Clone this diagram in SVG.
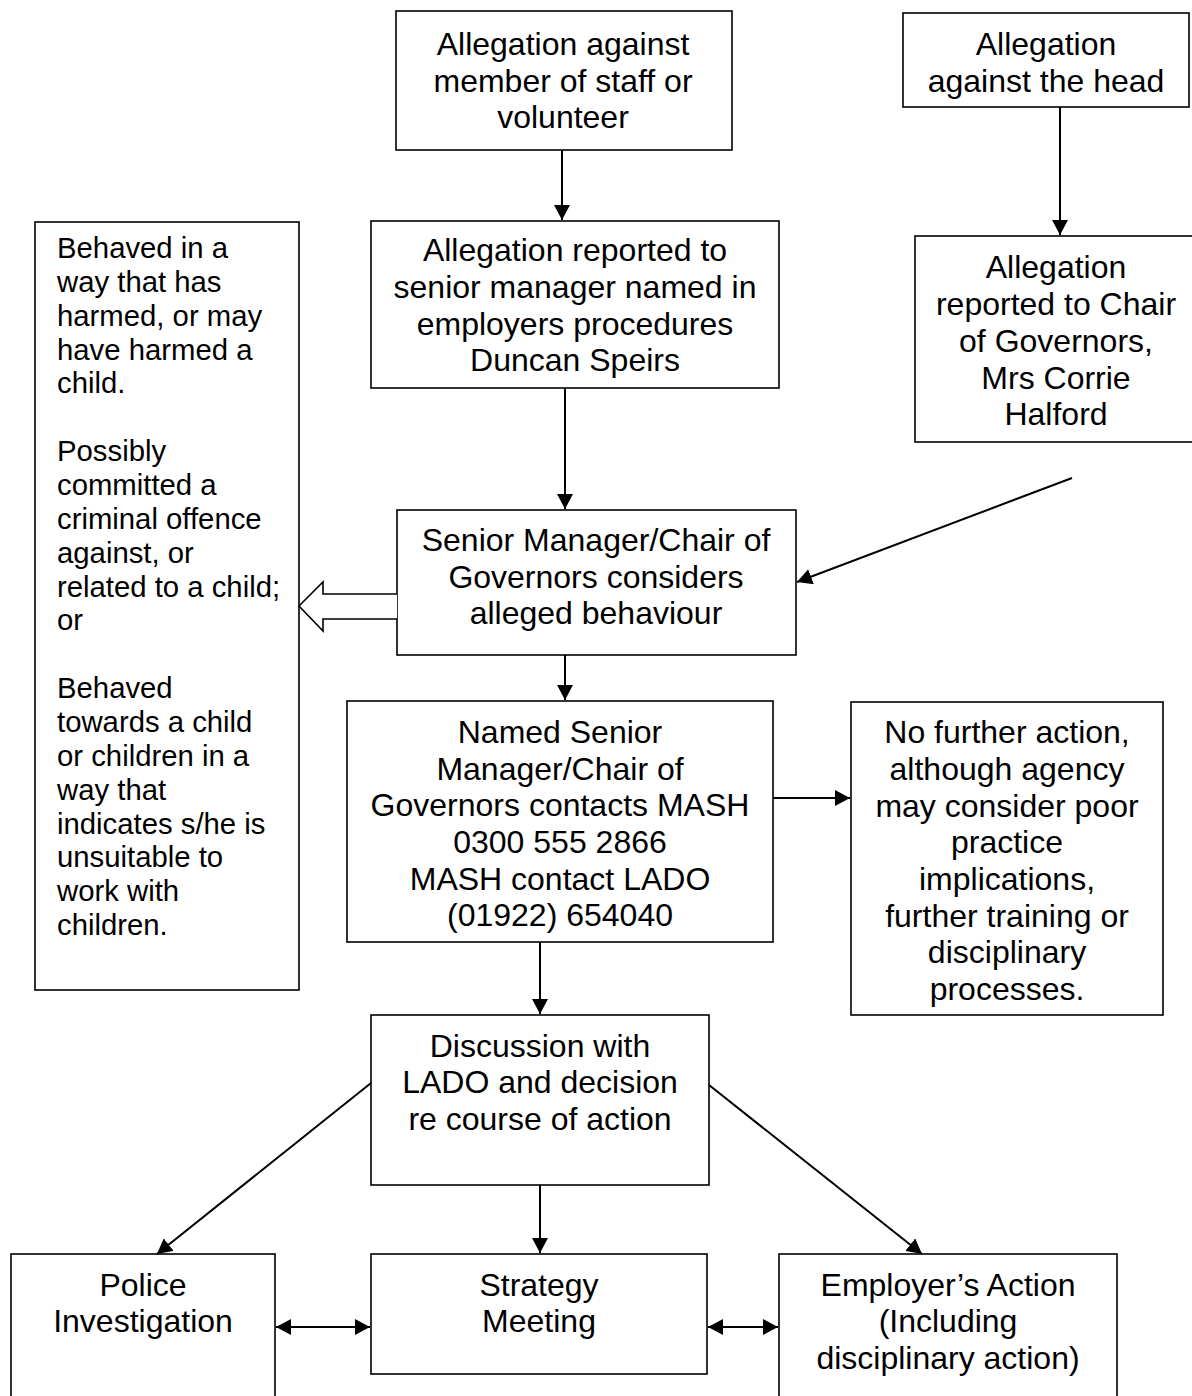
<svg xmlns="http://www.w3.org/2000/svg" width="1192" height="1396" viewBox="0 0 1192 1396">
<style>
.box{fill:#fff;stroke:#000;stroke-width:1.6}
.t{font-family:"Liberation Sans",Arial,sans-serif;font-size:32px;fill:#000;text-anchor:middle}
.tl{font-family:"Liberation Sans",Arial,sans-serif;font-size:29.3px;fill:#000}
.c{stroke:#000;stroke-width:2;fill:none}
</style>
<defs>
<marker id="ah" markerUnits="userSpaceOnUse" markerWidth="16" markerHeight="16" refX="15" refY="8" orient="auto-start-reverse">
<path d="M0,0 L15,8 L0,16 Z" fill="#000"/>
</marker>
</defs>
<rect width="1192" height="1396" fill="#fff"/>

<g id="n1">
<rect class="box" x="396" y="11" width="336" height="139"/>
<text class="t" x="563"><tspan x="563" y="55">Allegation against</tspan><tspan x="563" y="91.7">member of staff or</tspan><tspan x="563" y="128.4">volunteer</tspan></text>
</g>
<g id="n2">
<rect class="box" x="903" y="13" width="286" height="94"/>
<text class="t"><tspan x="1046" y="55">Allegation</tspan><tspan x="1046" y="91.7">against the head</tspan></text>
</g>
<g id="n3">
<rect class="box" x="371" y="221" width="408" height="167"/>
<text class="t"><tspan x="575" y="261">Allegation reported to</tspan><tspan x="575" y="298">senior manager named in</tspan><tspan x="575" y="335">employers procedures</tspan><tspan x="575" y="371">Duncan Speirs</tspan></text>
</g>
<g id="n4">
<rect class="box" x="915" y="236" width="282" height="206"/>
<text class="t"><tspan x="1056" y="278">Allegation</tspan><tspan x="1056" y="315">reported to Chair</tspan><tspan x="1056" y="352">of Governors,</tspan><tspan x="1056" y="389">Mrs Corrie</tspan><tspan x="1056" y="425">Halford</tspan></text>
</g>
<g id="n_left">
<rect class="box" x="35" y="222" width="264" height="768"/>
<text class="tl"><tspan x="57" y="258">Behaved in a</tspan><tspan x="57" y="291.9">way that has</tspan><tspan x="57" y="325.7">harmed, or may</tspan><tspan x="57" y="359.6">have harmed a</tspan><tspan x="57" y="393.4">child.</tspan><tspan x="57" y="461.1">Possibly</tspan><tspan x="57" y="495">committed a</tspan><tspan x="57" y="528.8">criminal offence</tspan><tspan x="57" y="562.7">against, or</tspan><tspan x="57" y="596.5">related to a child;</tspan><tspan x="57" y="630.4">or</tspan><tspan x="57" y="698.1">Behaved</tspan><tspan x="57" y="732">towards a child</tspan><tspan x="57" y="765.8">or children in a</tspan><tspan x="57" y="799.7">way that</tspan><tspan x="57" y="833.5">indicates s/he is</tspan><tspan x="57" y="867.4">unsuitable to</tspan><tspan x="57" y="901.2">work with</tspan><tspan x="57" y="935">children.</tspan></text>
</g>
<g id="n5">
<rect class="box" x="397" y="510" width="399" height="145"/>
<text class="t"><tspan x="596" y="551">Senior Manager/Chair of</tspan><tspan x="596" y="588">Governors considers</tspan><tspan x="596" y="624">alleged behaviour</tspan></text>
</g>
<g id="n6">
<rect class="box" x="347" y="701" width="426" height="241"/>
<text class="t"><tspan x="560" y="743">Named Senior</tspan><tspan x="560" y="780">Manager/Chair of</tspan><tspan x="560" y="816">Governors contacts MASH</tspan><tspan x="560" y="853">0300 555 2866</tspan><tspan x="560" y="890">MASH contact LADO</tspan><tspan x="560" y="926">(01922) 654040</tspan></text>
</g>
<g id="n7">
<rect class="box" x="851" y="702" width="312" height="313"/>
<text class="t"><tspan x="1007" y="743">No further action,</tspan><tspan x="1007" y="780">although agency</tspan><tspan x="1007" y="817">may consider poor</tspan><tspan x="1007" y="853">practice</tspan><tspan x="1007" y="890">implications,</tspan><tspan x="1007" y="927">further training or</tspan><tspan x="1007" y="963">disciplinary</tspan><tspan x="1007" y="1000">processes.</tspan></text>
</g>
<g id="n8">
<rect class="box" x="371" y="1015" width="338" height="170"/>
<text class="t"><tspan x="540" y="1057">Discussion with</tspan><tspan x="540" y="1093">LADO and decision</tspan><tspan x="540" y="1130">re course of action</tspan></text>
</g>
<g id="n9">
<rect class="box" x="11" y="1254" width="264" height="150"/>
<text class="t"><tspan x="143" y="1296">Police</tspan><tspan x="143" y="1332">Investigation</tspan></text>
</g>
<g id="n10">
<rect class="box" x="371" y="1254" width="336" height="120"/>
<text class="t"><tspan x="539" y="1296">Strategy</tspan><tspan x="539" y="1332">Meeting</tspan></text>
</g>
<g id="n11">
<rect class="box" x="779" y="1254" width="338" height="150"/>
<text class="t"><tspan x="948" y="1296">Employer’s Action</tspan><tspan x="948" y="1332">(Including</tspan><tspan x="948" y="1369">disciplinary action)</tspan></text>
</g>

<g id="connectors">
<line class="c" x1="562" y1="150" x2="562" y2="220" marker-end="url(#ah)"/>
<line class="c" x1="1060" y1="107" x2="1060" y2="235" marker-end="url(#ah)"/>
<line class="c" x1="565" y1="388" x2="565" y2="509" marker-end="url(#ah)"/>
<line class="c" x1="1072" y1="478" x2="797" y2="582" marker-end="url(#ah)"/>
<path d="M397,594 L323,594 L323,582 L299,606 L323,631 L323,619 L397,619" fill="#fff" stroke="#000" stroke-width="1.6"/>
<line class="c" x1="565" y1="655" x2="565" y2="700" marker-end="url(#ah)"/>
<line class="c" x1="773" y1="798" x2="850" y2="798" marker-end="url(#ah)"/>
<line class="c" x1="540" y1="942" x2="540" y2="1014" marker-end="url(#ah)"/>
<line class="c" x1="371" y1="1083" x2="157" y2="1254" marker-end="url(#ah)"/>
<line class="c" x1="709" y1="1085" x2="922" y2="1254" marker-end="url(#ah)"/>
<line class="c" x1="540" y1="1185" x2="540" y2="1253" marker-end="url(#ah)"/>
<line class="c" x1="276" y1="1327" x2="370" y2="1327" marker-start="url(#ah)" marker-end="url(#ah)"/>
<line class="c" x1="708" y1="1327" x2="778" y2="1327" marker-start="url(#ah)" marker-end="url(#ah)"/>
</g>
</svg>
